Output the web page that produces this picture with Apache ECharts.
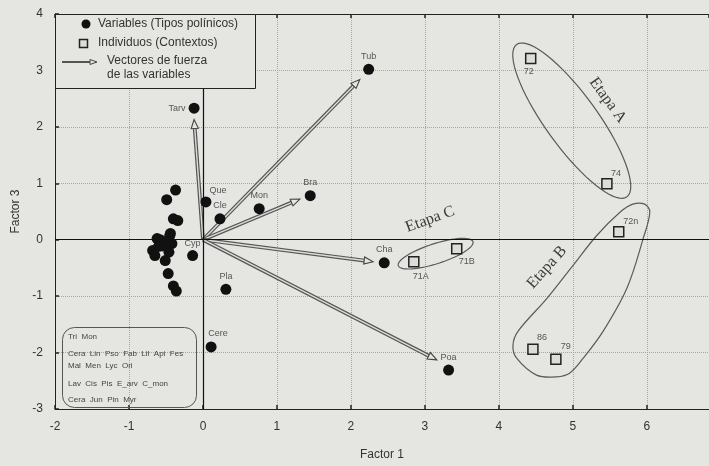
<!DOCTYPE html>
<html>
<head>
<meta charset="utf-8">
<script src="https://cdn.jsdelivr.net/npm/echarts@6/dist/echarts.min.js"></script>
<style>
  html, body { margin: 0; padding: 0; background: #e5e5e2; }
  #chart { width: 709px; height: 466px; }
</style>
</head>
<body>
<div id="chart"></div>
<script>
// Variables (tipos polínicos) with a label
const varNames = ['Tub', 'Tarv', 'Que', 'Cle', 'Mon', 'Bra', 'Cha', 'Poa', 'Pla', 'Cyp', 'Cere']
const varX = [2.24, -0.12, 0.04, 0.23, 0.76, 1.45, 2.45, 3.32, 0.31, -0.14, 0.11]
const varY = [3.02, 2.33, 0.67, 0.37, 0.55, 0.78, -0.41, -2.31, -0.88, -0.28, -1.9]

// unlabelled variables packed left of the origin (named in the box)
const clusterX = [-0.37, -0.49, -0.4, -0.34, -0.44, -0.62, -0.45, -0.55, -0.42, -0.68, -0.65, -0.51, -0.47, -0.4, -0.36, -0.58, -0.5, -0.6, -0.46]
const clusterY = [0.88, 0.71, 0.37, 0.34, 0.11, 0.02, 0.07, -0.11, -0.07, -0.19, -0.28, -0.37, -0.6, -0.82, -0.91, 0.0, -0.05, -0.12, -0.22]

// Individuos (contextos)
const indNames = ['72', '74', '72n', '86', '79', '71A', '71B']
const indX = [4.43, 5.46, 5.62, 4.46, 4.77, 2.85, 3.43]
const indY = [3.21, 0.99, 0.14, -1.94, -2.12, -0.39, -0.16]

// force vectors of the variables
const vecNames = ['Tarv', 'Tub', 'Bra', 'Cha', 'Poa']
const vecX = [-0.12, 2.12, 1.31, 2.3, 3.16]
const vecY = [2.13, 2.84, 0.72, -0.39, -2.13]

const boxLines = [
  'Tri  Mon',
  'Cera  Lin  Pso  Fab  Lil  Api  Fes',
  'Mal  Men  Lyc  Ori',
  'Lav  Cis  Pis  E_arv  C_mon',
  'Cera  Jun  Pin  Myr',
]

// group outlines (annotation shapes, in data units)
const etapaA = { ends: [[4.24, 3.46], [5.73, 0.76]], half: 26, text: 'Etapa A', at: [5.47, 2.47], rot: -54 }
const etapaC = { ends: [[2.64, -0.46], [3.65, -0.035]], half: 10, text: 'Etapa C', at: [3.07, 0.36], rot: 20 }
const etapaB = {
  outline: [
    [5.97, 0.63], [6.04, 0.49], [5.95, 0.02], [5.73, -0.86], [5.41, -1.62], [5.14, -2.1],
    [4.96, -2.36], [4.78, -2.43], [4.51, -2.4], [4.24, -2.1], [4.19, -1.87], [4.26, -1.62],
    [4.65, -1.04], [5.0, -0.46], [5.32, 0.07], [5.64, 0.49], [5.81, 0.63],
  ],
  text: 'Etapa B', at: [4.65, -0.49], rot: 48,
}

const FONT = '"Liberation Sans", Arial, sans-serif'
const BG = '#e5e5e2'

const varLabel = {
  Tub: { position: 'top', offset: [0, 0] },
  Tarv: { position: 'left', offset: [0, 0] },
  Que: { position: 'top', offset: [12, 2] },
  Cle: { position: 'top', offset: [0, 0] },
  Mon: { position: 'top', offset: [0, 0] },
  Bra: { position: 'top', offset: [0, 0] },
  Cha: { position: 'top', offset: [0, 0] },
  Poa: { position: 'top', offset: [0, 0] },
  Pla: { position: 'top', offset: [0, 0] },
  Cyp: { position: 'top', offset: [0, 1] },
  Cere: { position: 'top', offset: [7, 0] },
}
const indLabel = {
  '72': { position: 'bottom', offset: [-2, 0] },
  '74': { position: 'top', offset: [9, 3] },
  '72n': { position: 'top', offset: [12, 3] },
  '86': { position: 'top', offset: [9, 2] },
  '79': { position: 'top', offset: [10, 0] },
  '71A': { position: 'bottom', offset: [7, 2] },
  '71B': { position: 'bottom', offset: [10, 0] },
}

function ellipsePoints(api, e) {
  const p1 = api.coord(e.ends[0])
  const p2 = api.coord(e.ends[1])
  const cx = (p1[0] + p2[0]) / 2
  const cy = (p1[1] + p2[1]) / 2
  const a = Math.hypot(p2[0] - p1[0], p2[1] - p1[1]) / 2
  const ang = Math.atan2(p2[1] - p1[1], p2[0] - p1[0])
  const pts = []
  for (let i = 0; i < 72; i++) {
    const t = (i / 72) * Math.PI * 2
    const x = a * Math.cos(t)
    const y = e.half * Math.sin(t)
    pts.push([cx + x * Math.cos(ang) - y * Math.sin(ang), cy + x * Math.sin(ang) + y * Math.cos(ang)])
  }
  return pts
}

function etapaText(api, e) {
  const p = api.coord(e.at)
  return {
    type: 'text',
    x: p[0],
    y: p[1],
    rotation: (e.rot * Math.PI) / 180,
    style: {
      text: e.text,
      font: '16px "Liberation Serif", "Times New Roman", serif',
      fill: '#3a3a3a',
      align: 'center',
      verticalAlign: 'middle',
    },
  }
}

const outlineStyle = { fill: null, stroke: '#5a5a5a', lineWidth: 1.2 }

function renderGroups(params, api) {
  return {
    type: 'group',
    children: [
      { type: 'polygon', shape: { points: ellipsePoints(api, etapaA) }, style: outlineStyle },
      { type: 'polygon', shape: { points: ellipsePoints(api, etapaC) }, style: outlineStyle },
      { type: 'polygon', shape: { points: etapaB.outline.map((d) => api.coord(d)), smooth: 0.35 }, style: outlineStyle },
      etapaText(api, etapaA),
      etapaText(api, etapaB),
      etapaText(api, etapaC),
    ],
  }
}

function renderVector(params, api) {
  const o = api.coord([0, 0])
  const p = api.coord([api.value(0), api.value(1)])
  const dx = p[0] - o[0]
  const dy = p[1] - o[1]
  const len = Math.hypot(dx, dy)
  const ux = dx / len
  const uy = dy / len
  const head = 9
  const hw = 3.6
  const b = [p[0] - ux * head, p[1] - uy * head]
  const nx = -uy
  const ny = ux
  const shaft = { x1: o[0], y1: o[1], x2: b[0], y2: b[1] }
  return {
    type: 'group',
    children: [
      { type: 'line', shape: shaft, style: { stroke: '#555', lineWidth: 3.8 } },
      { type: 'line', shape: shaft, style: { stroke: '#dcdcd9', lineWidth: 1.4 } },
      {
        type: 'polygon',
        shape: { points: [p, [b[0] + nx * hw, b[1] + ny * hw], [b[0] - nx * hw, b[1] - ny * hw]] },
        style: { fill: BG, stroke: '#444', lineWidth: 1.1 },
      },
    ],
  }
}

const legendGraphic = [
  { type: 'rect', shape: { x: 55.5, y: 14.5, width: 200, height: 74 }, style: { fill: BG, stroke: '#222', lineWidth: 1 }, z: 100 },
  { type: 'circle', shape: { cx: 86, cy: 24, r: 4.5 }, style: { fill: '#111' }, z: 101 },
  { type: 'text', x: 98, y: 24, style: { text: 'Variables (Tipos polínicos)', font: '12px ' + FONT, fill: '#333', verticalAlign: 'middle' }, z: 101 },
  { type: 'rect', shape: { x: 79.5, y: 39.5, width: 8, height: 8 }, style: { fill: '#dcdcd9', stroke: '#222', lineWidth: 1.5 }, z: 101 },
  { type: 'text', x: 98, y: 43, style: { text: 'Individuos (Contextos)', font: '12px ' + FONT, fill: '#333', verticalAlign: 'middle' }, z: 101 },
  { type: 'line', shape: { x1: 62, y1: 62, x2: 91, y2: 62 }, style: { stroke: '#444', lineWidth: 1.8 }, z: 101 },
  { type: 'polygon', shape: { points: [[97, 62], [90, 59.5], [90, 64.5]] }, style: { fill: BG, stroke: '#444', lineWidth: 1 }, z: 101 },
  { type: 'text', x: 107, y: 61, style: { text: 'Vectores de fuerza', font: '12px ' + FONT, fill: '#333', verticalAlign: 'middle' }, z: 101 },
  { type: 'text', x: 107, y: 75, style: { text: 'de las variables', font: '12px ' + FONT, fill: '#333', verticalAlign: 'middle' }, z: 101 },
  { type: 'rect', shape: { x: 62.5, y: 327.5, width: 134, height: 80, r: 12 }, style: { fill: null, stroke: '#555', lineWidth: 1 }, z: 50 },
]
const boxY = [337, 354, 366, 384, 400]
boxLines.forEach((t, i) => {
  legendGraphic.push({
    type: 'text', x: 68, y: boxY[i],
    style: { text: t, font: '8px ' + FONT, fill: '#444', verticalAlign: 'middle' }, z: 51,
  })
})

const chart = echarts.init(document.getElementById('chart'))

const axisCommon = {
  type: 'value',
  interval: 1,
  nameLocation: 'middle',
  nameTextStyle: { color: '#333', fontSize: 12, fontFamily: FONT },
  axisLine: { show: true, onZero: false, lineStyle: { color: '#222', width: 1 } },
  axisTick: { show: true, inside: true, length: 4, lineStyle: { color: '#222', width: 1.5 } },
  axisLabel: { color: '#333', fontSize: 12, fontFamily: FONT, margin: 12 },
  splitLine: { show: true, lineStyle: { type: 'dotted', color: '#a5a5a2', width: 1 } },
}

chart.setOption({
  animation: false,
  backgroundColor: BG,
  // the right edge of the frame lies beyond the picture, so the x range stops at 6.84
  grid: { left: 55, top: 14, right: 0, bottom: 56 },
  xAxis: [
    {
      ...axisCommon,
      min: -2,
      max: 6.84,
      name: 'Factor 1',
      nameGap: 40,
      axisLabel: { ...axisCommon.axisLabel, showMaxLabel: false },
    },
    {
      ...axisCommon,
      position: 'top',
      min: -2,
      max: 6.84,
      name: '',
      axisLabel: { show: false },
      splitLine: { show: false },
    },
  ],
  yAxis: { ...axisCommon, min: -3, max: 4, name: 'Factor 3', nameGap: 22 },
  graphic: legendGraphic,
  series: [
    {
      type: 'custom',
      renderItem: renderGroups,
      data: [[0, 0]],
      silent: true,
      z: 1,
    },
    {
      type: 'scatter',
      symbol: 'circle',
      symbolSize: 11,
      itemStyle: { color: '#111', opacity: 1 },
      data: clusterX.map((x, i) => [x, clusterY[i]]),
      z: 4,
      markLine: {
        silent: true,
        symbol: 'none',
        label: { show: false },
        lineStyle: { color: '#111', type: 'solid', width: 1.2 },
        data: [{ xAxis: 0 }, { yAxis: 0 }],
      },
    },
    {
      type: 'custom',
      renderItem: renderVector,
      data: vecX.map((x, i) => [x, vecY[i]]),
      silent: true,
      z: 3,
    },
    {
      type: 'scatter',
      symbol: 'circle',
      symbolSize: 11,
      itemStyle: { color: '#111', opacity: 1 },
      label: { show: true, color: '#555', fontSize: 9, fontFamily: FONT, distance: 3, formatter: '{b}' },
      data: varNames.map((n, i) => ({ name: n, value: [varX[i], varY[i]], label: varLabel[n] })),
      z: 4,
    },
    {
      type: 'scatter',
      symbol: 'rect',
      symbolSize: 10,
      itemStyle: { color: '#dcdcd9', borderColor: '#222', borderWidth: 1.5, opacity: 1 },
      label: { show: true, color: '#555', fontSize: 9, fontFamily: FONT, distance: 3, formatter: '{b}' },
      data: indNames.map((n, i) => ({ name: n, value: [indX[i], indY[i]], label: indLabel[n] })),
      z: 4,
    },
  ],
})

window.addEventListener('resize', () => chart.resize())
</script>
</body>
</html>
